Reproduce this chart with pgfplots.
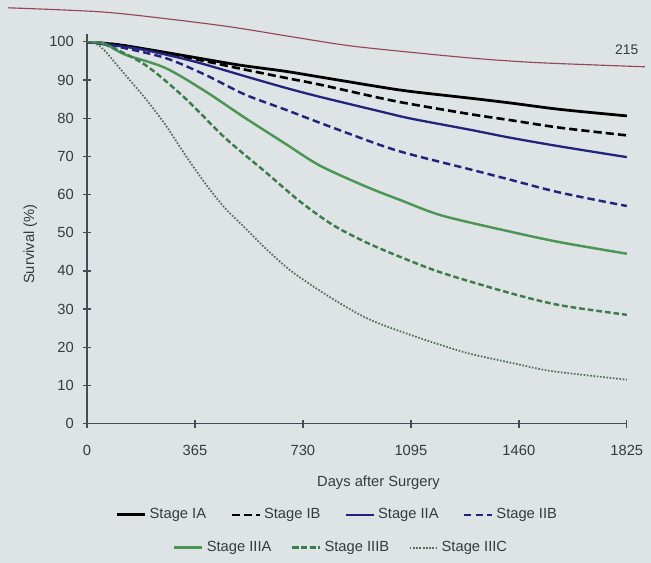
\documentclass[border=0pt]{standalone}
\usepackage{fontspec}
\setmainfont{Liberation Sans}
\usepackage{pgfplots}
\pgfplotsset{compat=1.18}
\usepackage{pgfplotstable}

\definecolor{paper}{RGB}{222,227,230}
\definecolor{axisgray}{RGB}{70,75,85}
\definecolor{textgray}{RGB}{55,58,62}
\definecolor{navy}{RGB}{35,35,125}
\definecolor{gA}{RGB}{75,150,85}
\definecolor{gB}{RGB}{60,125,75}
\definecolor{gC}{RGB}{85,112,92}
\definecolor{pagered}{RGB}{150,70,90}

% days after surgery, survival (%)
\pgfplotstableread{
d s
0 100
100 99.3
200 98.1
365 95.9
517 93.9
669 92.3
787 90.8
990 88.2
1095 87.0
1300 85.2
1430 84.0
1600 82.3
1825 80.6
}\stageIA
\pgfplotstableread{
d s
0 100
100 99.3
200 98.0
365 95.5
517 93.0
669 90.6
787 88.8
990 85.3
1095 83.7
1300 81.0
1430 79.5
1600 77.5
1825 75.5
}\stageIB
\pgfplotstableread{
d s
0 100
100 99.0
200 97.8
365 94.8
534 91.0
669 88.0
787 85.6
990 81.8
1095 79.9
1300 76.9
1430 74.9
1600 72.6
1825 69.8
}\stageIIA
\pgfplotstableread{
d s
0 100
100 98.8
264 95.8
399 91.4
534 86.2
669 82.3
787 78.8
990 73.0
1095 70.5
1300 66.5
1430 63.9
1600 60.5
1825 57.0
}\stageIIB
\pgfplotstableread{
d s
0 100
60 99.5
128 96.7
264 93.2
399 87.1
534 80.1
669 73.4
787 67.6
946 62.0
1058 58.6
1200 54.5
1430 50.3
1600 47.5
1825 44.5
}\stageIIIA
\pgfplotstableread{
d s
0 100
61 99.3
196 94.0
331 85.3
466 74.9
602 66.0
720 58.2
832 52.0
946 47.4
1058 43.7
1200 39.5
1430 34.2
1600 31.0
1825 28.5
}\stageIIIB
\pgfplotstableread{
d s
0 100
30 99.5
61 97.6
128 91.5
196 85.3
264 78.4
331 70.5
399 63.0
466 56.5
534 51.3
602 46.0
669 41.3
720 38.3
832 32.6
946 27.6
1058 24.2
1200 20.5
1300 18.2
1430 16.0
1550 14.0
1650 13.0
1825 11.5
}\stageIIIC

\pgfplotsset{
  kmaxis/.style={
    at={(1.87cm,2.99cm)}, anchor=south west,
    scale only axis, width=11.61cm, height=8.21cm,
    xmin=0, xmax=1825, ymin=0, ymax=100,
    legend cell align=left,
    legend style={draw=none, fill=none, font=\fontsize{9}{10}\selectfont, text=textgray},
  },
}

\begin{document}
\begin{tikzpicture}
\fill[paper] (0,0) rectangle (14.0cm,12.1cm);
\begin{scope}[x=0.0215cm, y=0.0215cm]
  \draw[pagered, line width=0.7pt] plot[smooth] coordinates
    {(8,555) (100,551) (167,544) (230,536) (292,526) (350,517) (416,510) (480,504) (541,500) (645,496)};
  \node[text=textgray, font=\fontsize{8.5}{10}\selectfont] at (627,513) {215};
\end{scope}

\begin{axis}[kmaxis,
  axis lines=left,
  axis line style={axisgray, line width=1pt, -},
  y axis line style={shorten >=-5pt},
  xtick={0,365,730,1095,1460,1825},
  ytick={0,10,...,100},
  tick align=center, major tick length=5pt,
  tick style={axisgray, line width=0.8pt},
  ticklabel style={font=\fontsize{9}{10}\selectfont, text=textgray},
  /pgf/number format/assume math mode=true,
  /pgf/number format/1000 sep={},
  scaled x ticks=false,
  xticklabel style={yshift=-7pt},
  yticklabel style={xshift=-2pt},
  xlabel={Days after Surgery},
  ylabel={Survival (\%)},
  label style={font=\fontsize{9}{10}\selectfont, text=textgray},
  xlabel style={at={(axis description cs:0.54,-0.155)}, anchor=center},
  ylabel style={at={(axis description cs:-0.105,0.47)}, anchor=center},
  legend columns=4,
  legend style={at={(rel axis cs:0.465,-0.239)}, anchor=center,
    /tikz/every even column/.append style={column sep=0.45cm}},
]
\addplot[black, line width=1.7pt, smooth] table[x=d, y=s] {\stageIA};
\addlegendentry{Stage IA}
\addplot[black, line width=1.6pt, smooth, dash pattern=on 5pt off 2.5pt] table[x=d, y=s] {\stageIB};
\addlegendentry{Stage IB}
\addplot[navy, line width=1.4pt, smooth] table[x=d, y=s] {\stageIIA};
\addlegendentry{Stage IIA}
\addplot[navy, line width=1.5pt, smooth, dash pattern=on 4.5pt off 2.5pt] table[x=d, y=s] {\stageIIB};
\addlegendentry{Stage IIB}
\end{axis}

\begin{axis}[kmaxis, hide axis,
  legend columns=3,
  legend style={at={(rel axis cs:0.472,-0.325)}, anchor=center,
    /tikz/every even column/.append style={column sep=0.35cm}},
]
\addplot[gA, line width=1.5pt, smooth] table[x=d, y=s] {\stageIIIA};
\addlegendentry{Stage IIIA}
\addplot[gB, line width=1.5pt, smooth, dash pattern=on 3.5pt off 1.8pt] table[x=d, y=s] {\stageIIIB};
\addlegendentry{Stage IIIB}
\addplot[gC, line width=1.1pt, smooth, dash pattern=on 1pt off 1pt] table[x=d, y=s] {\stageIIIC};
\addlegendentry{Stage IIIC}
\end{axis}
\end{tikzpicture}
\end{document}
